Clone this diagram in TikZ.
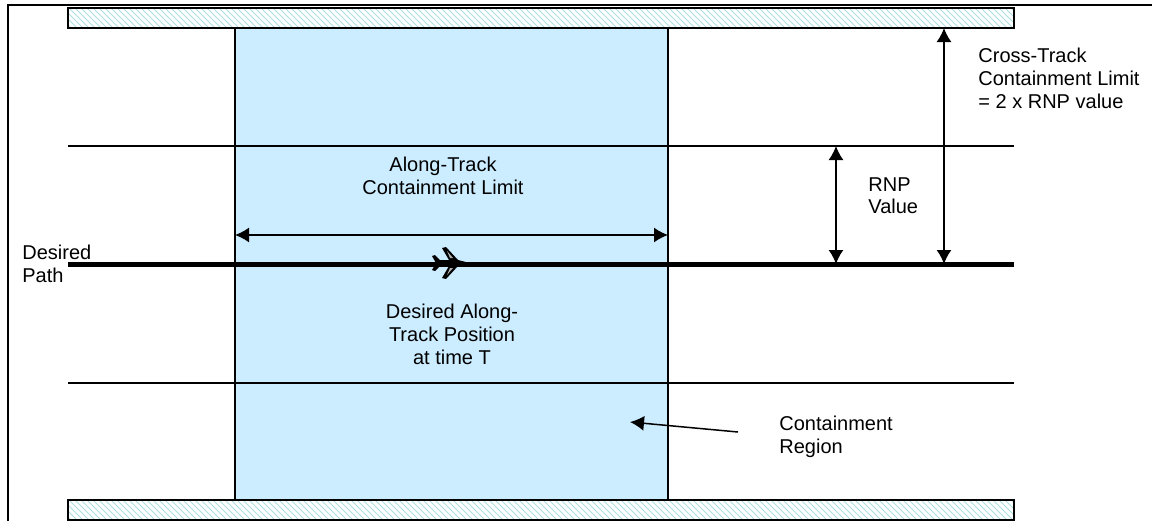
\documentclass[tikz,border=0pt]{standalone}
\usepackage{fontspec}
\setmainfont{Liberation Sans}
\usetikzlibrary{patterns,arrows.meta}
\definecolor{regionblue}{RGB}{204,236,255}
\definecolor{hatchcol}{RGB}{172,222,226}

\begin{document}
\begin{tikzpicture}[x=0.5pt,y=-0.5pt,>={Latex[length=7pt,width=7.5pt]},
        rule/.style={line width=0.75pt},
        wall/.style={draw,line width=1pt,pattern=north west lines,pattern color=hatchcol},
        txt/.style={font=\fontsize{10}{11.35}\selectfont,inner sep=0pt,align=left,anchor=north west},
        ctxt/.style={txt,align=center,anchor=north}]
            \useasboundingbox (0,0) rectangle (1152,521);
            \draw[line width=1pt] (8,521) -- (8,5) -- (1152,5);

            \fill[regionblue] (235,28) rectangle (668,500);
            \draw[wall] (68,8) rectangle (1014,28);
            \draw[wall] (68,500) rectangle (1014,520);
            \draw[rule] (235,28) -- (235,500) (668,28) -- (668,500);

            \coordinate (rnpL) at (68,146);
            \coordinate (rnpR) at (1014,146);
            \coordinate (lowL) at (68,383);
            \coordinate (lowR) at (1014,383);
            \coordinate (pathL) at (68,264);
            \coordinate (pathR) at (1014,264);
            \draw[rule] (rnpL) -- (rnpR);
            \draw[rule] (lowL) -- (lowR);
            \draw[line width=2.5pt] (pathL) -- (pathR);

            \coordinate (alongL) at (235,235);
            \coordinate (alongR) at (668,235);
            \coordinate (rnpTop) at (836,146);
            \coordinate (rnpBot) at (836,264);
            \coordinate (crossTop) at (944,28);
            \coordinate (crossBot) at (944,264);
            \coordinate (regionTail) at (738,432);
            \coordinate (regionTip) at (630,422);

            \node[txt] (crossText) at (978,48) {Cross-Track\\Containment Limit\\= 2 x RNP value};
            \node[txt] (rnpText) at (868,177) {RNP\\Value};
            \node[ctxt] (alongText) at (443,157) {Along-Track\\Containment Limit};
            \node[txt] (pathText) at (22,245) {Desired\\Path};
            \node[ctxt] (posText) at (452,304) {Desired Along-\\Track Position\\at time T};
            \node[txt] (regionText) at (779,416) {Containment\\Region};

            \path[rule]
                (alongL) edge[<->] (alongR)
                (rnpTop) edge[<->] (rnpBot)
                (crossTop) edge[<->] (crossBot)
                (regionTail) edge[->] (regionTip)
                ;

            \fill[black] (470,263) -- (458,260) -- (446,247) -- (442,248) -- (449,260) -- (440,260) -- (435,255) -- (432,256) -- (436,263)
                -- (432,270) -- (435,271) -- (440,266) -- (449,266) -- (442,278) -- (446,279) -- (458,266) -- cycle;
            \fill[gray!60] (447,251) -- (453,258) -- (450,258) -- cycle (447,275) -- (453,268) -- (450,268) -- cycle;
        \end{tikzpicture}
\end{document}
